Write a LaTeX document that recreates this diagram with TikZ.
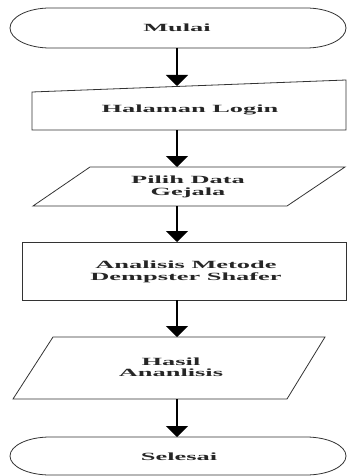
\documentclass[tikz,border=0pt]{standalone}
\usepackage{fontspec}
\setmainfont{Liberation Serif}[FakeStretch=2.4]
\usetikzlibrary{arrows.meta}
\begin{document}
\begin{tikzpicture}[x=1pt,y=-1pt,
  outline/.style={draw=black!80,line width=0.8pt},
  lbl/.style={font=\fontsize{11}{11.5}\selectfont\bfseries,text=black!85,align=center,inner sep=0pt},
  flow/.style={draw=black,line width=1.4pt,-{Triangle[width=22pt,length=11pt]},shorten >=0pt}]
\useasboundingbox (0,0) rectangle (347,476);
% Mulai terminator
\draw[outline] (50,8) -- (306,8) arc[start angle=-90,end angle=90,x radius=40,y radius=20] -- (50,48) arc[start angle=90,end angle=270,x radius=40,y radius=20] -- cycle;
\node[lbl] (mulai) at (177,28) {Mulai};
\coordinate (mulaiB) at (177,48);
% Halaman Login (manual input)
\draw[outline] (32,92) -- (346,80) -- (346,130) -- (32,130) -- cycle;
\node[lbl] (login) at (190,110) {Halaman Login};
\coordinate (loginT) at (177,86);
\coordinate (loginB) at (177,130);
% Pilih Data Gejala (parallelogram)
\draw[outline] (90,167) -- (345,167) -- (287,206) -- (33,206) -- cycle;
\node[lbl] (pilih) at (188,187) {Pilih Data\\Gejala};
\coordinate (pilihT) at (177,167);
\coordinate (pilihB) at (177,206);
% Analisis (process)
\draw[outline] (22,242) rectangle (346,300);
\node[lbl] (analisis) at (186,272) {Analisis Metode\\Dempster Shafer};
\coordinate (analisisT) at (177,242);
\coordinate (analisisB) at (177,300);
% Hasil (parallelogram)
\draw[outline] (53,337) -- (325,337) -- (287,399) -- (13,399) -- cycle;
\node[lbl] (hasil) at (171,367) {Hasil\\Ananlisis};
\coordinate (hasilT) at (177,337);
\coordinate (hasilB) at (177,399);
% Selesai terminator
\draw[outline] (50,437) -- (306,437) arc[start angle=-90,end angle=90,x radius=40,y radius=19] -- (50,475) arc[start angle=90,end angle=270,x radius=40,y radius=19] -- cycle;
\node[lbl] (selesai) at (179,457) {Selesai};
\coordinate (selesaiT) at (177,437);
% connectors
\draw[flow] (mulaiB) -- (loginT);
\draw[flow] (loginB) -- (pilihT);
\draw[flow] (pilihB) -- (analisisT);
\draw[flow] (analisisB) -- (hasilT);
\draw[flow] (hasilB) -- (selesaiT);
\end{tikzpicture}
\end{document}
